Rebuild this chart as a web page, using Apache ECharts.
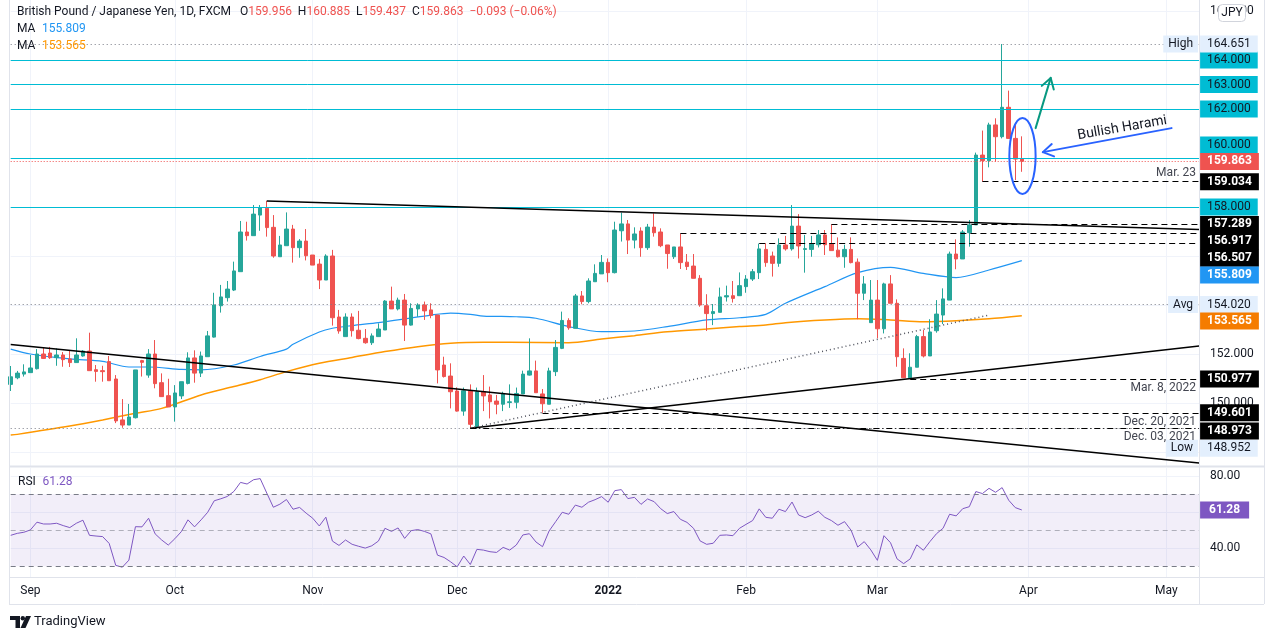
<!DOCTYPE html>
<html>
<head>
<meta charset="utf-8">
<title>GBP/JPY 1D</title>
<script src="https://cdn.jsdelivr.net/npm/echarts@6.0.0/dist/echarts.min.js"></script>
<style>
  html, body { margin: 0; padding: 0; background: #fff; }
  #main { width: 1274px; height: 640px; }
</style>
</head>
<body>
<div id="main"></div>
<script>
// daily candles from 2021-08-27, [open, high, low, close]
const ohlc = [
  [150.76, 151.51, 150.49, 151.07], [151.03, 151.31, 150.97, 151.22], [151.18, 151.58, 151.08, 151.27],
  [151.24, 151.96, 151.24, 151.43], [151.40, 152.20, 151.37, 152.00], [152.00, 152.27, 151.80, 151.82],
  [152.04, 152.29, 151.80, 151.85], [151.85, 152.23, 151.52, 151.96], [151.96, 152.08, 151.48, 151.77],
  [151.80, 152.15, 151.47, 151.65], [151.65, 152.64, 151.65, 151.96], [151.92, 152.16, 151.89, 152.12],
  [152.12, 152.87, 151.32, 151.32], [151.36, 151.55, 150.87, 151.29], [151.32, 151.52, 150.87, 151.28],
  [151.69, 151.92, 150.91, 150.91], [150.98, 151.14, 149.18, 149.27], [149.31, 150.16, 148.99, 149.10],
  [149.10, 149.96, 149.10, 149.43], [149.40, 151.35, 149.37, 151.35], [151.73, 151.76, 151.08, 151.66],
  [151.14, 152.20, 151.03, 152.00], [152.00, 152.57, 150.60, 150.79], [150.83, 151.21, 150.25, 150.26],
  [150.30, 150.99, 149.84, 149.84], [149.84, 150.73, 149.24, 150.41], [150.29, 150.87, 150.16, 150.87],
  [150.80, 152.07, 150.76, 151.84], [151.84, 152.15, 150.83, 151.22], [151.22, 152.10, 151.06, 151.92],
  [151.89, 152.94, 151.89, 152.74], [152.69, 154.50, 152.67, 154.00], [153.97, 154.82, 153.69, 154.33],
  [154.30, 154.98, 154.14, 154.65], [154.61, 155.77, 154.57, 155.39], [155.36, 157.43, 155.36, 156.98],
  [156.98, 157.40, 156.63, 156.83], [156.83, 158.08, 156.83, 157.71], [157.67, 158.08, 157.03, 157.97],
  [157.95, 158.25, 156.79, 157.16], [157.17, 157.67, 155.93, 156.00], [155.97, 156.82, 155.97, 156.45],
  [156.42, 157.78, 156.42, 157.10], [157.10, 157.27, 155.73, 156.34], [156.34, 156.69, 155.93, 156.61],
  [156.61, 157.10, 155.82, 156.01], [156.04, 156.04, 155.63, 155.63], [155.67, 155.88, 154.65, 155.02],
  [155.02, 156.07, 155.02, 156.00], [156.00, 156.25, 153.16, 153.48], [153.51, 153.80, 152.83, 152.94],
  [152.71, 153.66, 152.71, 153.51], [153.51, 153.66, 152.71, 152.95], [152.97, 153.76, 152.60, 152.63],
  [152.64, 153.02, 152.42, 152.46], [152.46, 152.84, 152.37, 152.74], [152.71, 153.25, 152.71, 153.02],
  [152.98, 154.20, 152.98, 154.16], [154.16, 154.75, 153.84, 153.84], [153.84, 154.30, 153.78, 154.20],
  [154.20, 154.45, 152.53, 153.18], [153.18, 154.07, 153.16, 153.86], [153.84, 154.07, 153.52, 154.00],
  [154.00, 154.14, 153.39, 153.76], [153.80, 154.07, 153.46, 153.57], [153.59, 153.59, 150.80, 151.35],
  [151.55, 151.89, 151.04, 151.08], [151.10, 151.62, 149.78, 150.46], [150.49, 150.64, 149.65, 149.67],
  [149.67, 150.63, 149.48, 150.50], [150.49, 150.76, 148.973, 149.13], [149.03, 150.63, 148.952, 150.46],
  [150.46, 151.14, 149.67, 150.29], [150.33, 150.67, 149.37, 150.05], [150.08, 150.33, 149.54, 149.95],
  [149.95, 150.46, 149.67, 150.39], [150.02, 150.76, 149.80, 150.05], [150.03, 150.63, 149.78, 150.39],
  [150.37, 151.32, 150.37, 151.18], [151.14, 152.64, 151.12, 151.31], [151.31, 151.73, 150.42, 150.42],
  [150.37, 150.57, 149.601, 149.97], [149.95, 151.44, 149.95, 151.31], [151.28, 152.57, 151.10, 152.27],
  [152.23, 153.73, 152.20, 153.37], [153.37, 153.46, 152.99, 153.07], [153.05, 154.45, 153.05, 154.37],
  [154.37, 154.57, 154.03, 154.14], [154.14, 155.09, 154.07, 154.98], [154.95, 155.66, 154.95, 155.29],
  [155.27, 156.04, 155.27, 155.74], [155.74, 155.90, 154.93, 155.32], [155.32, 157.40, 155.29, 157.06],
  [157.03, 157.77, 156.59, 157.31], [157.31, 157.47, 156.08, 156.65], [156.65, 157.17, 156.31, 156.90],
  [157.02, 157.17, 155.97, 156.34], [156.34, 157.31, 156.25, 157.18], [157.18, 157.74, 156.79, 156.95],
  [156.98, 157.13, 156.36, 156.42], [156.45, 156.45, 155.48, 156.10], [155.97, 156.37, 155.88, 156.37],
  [156.37, 156.917, 155.47, 155.73], [155.75, 156.08, 155.43, 155.57], [155.59, 156.08, 155.09, 155.09],
  [155.09, 155.22, 153.93, 154.00], [153.97, 154.44, 152.94, 153.65], [153.65, 154.04, 153.18, 153.73],
  [153.70, 154.71, 153.70, 154.33], [154.33, 154.79, 154.14, 154.38], [154.38, 154.98, 154.10, 154.27],
  [154.38, 155.33, 154.38, 154.79], [154.75, 155.22, 154.50, 155.06], [155.06, 155.47, 154.98, 155.36],
  [155.32, 156.507, 155.06, 156.29], [156.27, 156.52, 155.56, 155.73], [156.00, 156.18, 155.16, 155.70],
  [155.70, 156.72, 155.56, 156.45], [156.45, 156.82, 156.22, 156.29], [156.29, 158.08, 156.22, 157.22],
  [157.22, 157.71, 155.90, 156.41], [156.27, 156.86, 155.32, 156.30], [156.27, 156.82, 155.97, 156.49],
  [156.46, 157.06, 156.35, 156.86], [156.86, 157.06, 156.04, 156.46], [156.49, 157.289, 156.22, 156.22],
  [156.24, 156.76, 155.94, 155.97], [155.97, 156.46, 155.52, 156.27], [156.27, 156.76, 155.70, 155.73],
  [155.75, 155.90, 153.42, 154.48], [154.48, 155.18, 154.20, 154.86], [153.28, 155.02, 153.28, 154.20],
  [154.20, 155.02, 152.64, 153.03], [153.03, 154.91, 152.84, 154.86], [154.86, 155.22, 154.07, 154.07],
  [154.07, 154.23, 151.48, 151.89], [151.82, 152.23, 151.03, 151.03], [151.03, 152.03, 150.977, 151.46],
  [151.46, 152.78, 151.46, 152.71], [152.71, 152.98, 151.86, 151.92], [151.92, 153.42, 151.92, 152.90],
  [152.95, 154.20, 152.87, 153.63], [153.59, 154.68, 153.22, 154.25], [154.20, 156.18, 154.20, 156.08],
  [156.08, 156.68, 155.46, 155.88], [155.88, 157.06, 155.88, 156.98], [156.95, 157.47, 156.38, 157.27],
  [157.27, 160.22, 157.27, 160.12], [160.12, 161.12, 159.034, 159.89], [159.89, 161.44, 159.62, 161.35],
  [161.35, 161.62, 159.85, 160.87], [160.87, 164.651, 160.80, 162.07], [162.07, 162.75, 160.80, 160.80],
  [160.80, 161.44, 159.10, 159.956], [159.956, 160.885, 159.437, 159.863]
]

// moving averages, [bar index, value]
const maFast = [
  [0, 152.2], [3, 152.0], [9, 151.8], [14, 151.7], [18, 151.47], [21, 151.47], [26, 151.37], [29, 151.35],
  [34, 151.55], [38, 151.9], [42, 152.2], [43, 152.4], [47, 152.9], [49, 153.05], [52, 153.16], [56, 153.28],
  [60, 153.43], [64, 153.59], [67, 153.67], [70, 153.62], [72, 153.55], [77, 153.52], [80, 153.46], [85, 153.12],
  [90, 152.91], [95, 152.94], [100, 153.12], [106, 153.39], [111, 153.48], [115, 153.62], [118, 154.07],
  [124, 154.75], [129, 155.32], [134, 155.54], [139, 155.29], [144, 155.12], [149, 155.43], [154, 155.809]
]
const maSlow = [
  [0, 148.69], [1, 148.72], [9, 149.06], [14, 149.31], [19, 149.58], [23, 149.78], [29, 150.33], [34, 150.67],
  [38, 150.95], [42, 151.28], [47, 151.62], [52, 151.86], [57, 152.1], [62, 152.3], [67, 152.44], [72, 152.48],
  [76, 152.48], [85, 152.46], [90, 152.61], [95, 152.75], [100, 152.91], [106, 153.02], [111, 153.12],
  [115, 153.18], [118, 153.28], [124, 153.39], [129, 153.44], [134, 153.39], [139, 153.32], [144, 153.36],
  [149, 153.44], [154, 153.565]
]

const rsi = [
  47.2, 48.3, 48.9, 50.2, 54.5, 53.5, 53.5, 53.9, 52.6, 51.5, 53.9, 55.6, 47.2, 46.8, 46.5, 42.7, 30.5, 29.5,
  33.4, 52, 51.9, 56.7, 48, 44.6, 41.8, 45.3, 49.3, 55.8, 51.9, 55.8, 60, 66.4, 67.5, 68.8, 71.6, 76.6, 75.7,
  78.1, 78.7, 70.7, 62.8, 64.5, 67.1, 61.7, 62.7, 59.5, 56.7, 52.4, 57.3, 44, 41.6, 44.6, 42.2, 41.1, 40.1,
  41.4, 44, 51.1, 49.4, 51.3, 45.5, 49.8, 50.4, 49.4, 48, 36.2, 34.9, 32.5, 29.7, 35.7, 31, 39.4, 39, 38.1,
  37.7, 40.5, 39, 41.8, 47.4, 48.1, 43.5, 40.9, 49.6, 54.8, 60, 58.9, 64, 62.8, 65.6, 67, 68.7, 65.6, 72,
  72.6, 67.6, 68.3, 64.4, 67.4, 65.9, 62, 59.3, 60.4, 56.1, 54.4, 51.1, 44.1, 42.2, 42.8, 47.2, 47.4, 47,
  51.1, 53.3, 55.4, 61.9, 57.2, 56.7, 61.7, 60.4, 65.7, 58.5, 57, 58.5, 60.6, 57.2, 55.4, 52.8, 54.8, 50,
  40.7, 43.7, 39.1, 33.3, 47, 43.1, 34.1, 31.5, 34.1, 41.9, 38.9, 43.7, 48.1, 51.1, 58.9, 58, 62, 63.1,
  71.5, 70.4, 73.3, 71.1, 73.7, 66.7, 62.6, 61.28
]

const levels = [164, 163, 162, 160, 158]
// horizontal rays: [start bar, price, note]
const rays = [
  [148, 159.034, 'Mar. 23'],
  [125, 157.289, ''],
  [102, 156.917, ''],
  [114, 156.507, ''],
  [137, 150.977, 'Mar. 8, 2022'],
  [81, 149.601, 'Dec. 20, 2021'],
  [70, 148.973, 'Dec. 03, 2021']
]
const stats = [['High', 164.651], ['Avg', 154.020], ['Low', 148.952]]
const lastPrice = 159.863
// trend lines: [start bar, price, end bar, price]
const trendLines = [
  [39, 158.25, 181, 157.08],
  [0, 152.39, 181, 147.55],
  [70, 148.973, 181, 152.33]
]
const dottedTrend = [70, 148.973, 149, 153.59]
const rsiLevels = [70, 50, 30]

// drawings, in bar index / price space
const harami = { box: [152.1, 161.63, 156.1, 158.53], text: [169.3, 161.22] }
const blueArrow = [176.8, 161.22, 157.2, 160.24]
const greenArrow = [156.1, 161.22, 158.4, 163.27]

const FONT = 'Roboto, "Noto Sans", sans-serif'
const UP = '#26a69a', DOWN = '#ef5350', INK = '#131722'
const CLEAR = 'rgba(0,0,0,0)'
const BARS = 182

// weekday calendar, extended past the last candle
const dates = []
const day = new Date(Date.UTC(2021, 7, 27))
while (dates.length < BARS) {
    const wd = day.getUTCDay()
    if (wd !== 0 && wd !== 6) dates.push(day.toISOString().slice(0, 10))
    day.setUTCDate(day.getUTCDate() + 1)
}
const LAST = BARS - 1
const monthStarts = dates.map((d, i) => i > 0 && d.slice(5, 7) !== dates[i - 1].slice(5, 7) ? i : -1).filter(i => i >= 0)
const monthNames = ['Jan', 'Feb', 'Mar', 'Apr', 'May', 'Jun', 'Jul', 'Aug', 'Sep', 'Oct', 'Nov', 'Dec']

// right-hand price tags, pushed down/up where TradingView stacks them
const tagShift = { '160': -13, '156.917': 8, '156.507': 14.7, '155.809': 14.3, '153.565': 5.3, '148.973': 2.7, '148.952': 19.5 }

function box(value, bg, fg, bold) {
    return {
        show: true, position: 'end', distance: 1, formatter: value.toFixed(3),
        backgroundColor: bg, color: fg, fontFamily: FONT, fontSize: 12, lineHeight: 12,
        fontWeight: bold ? 'bold' : 'normal', padding: [3, 7, 2, 7],
        offset: [0, tagShift[String(value)] || 0]
    }
}
function tagLine(value, label) {
    return { yAxis: value, lineStyle: { color: CLEAR, width: 0 }, label }
}

const lines = []
levels.forEach(v => {
    lines.push({ yAxis: v, lineStyle: { color: '#00bcd4', width: 1, type: 'solid' }, label: box(v, '#00bcd4', INK, false) })
})
stats.forEach(([name, v]) => {
    lines.push({
        yAxis: v, lineStyle: { color: '#787b86', width: 1, type: [1, 3] },
        label: {
            show: true, position: 'insideEnd', distance: 1, formatter: name,
            backgroundColor: '#e3effd', color: INK, fontFamily: FONT, fontSize: 12, lineHeight: 12,
            padding: [3, 5, 2, 5], offset: [0, tagShift[String(v)] || 0]
        }
    })
    lines.push(tagLine(v, box(v, '#e3effd', INK, false)))
})
lines.push({ yAxis: lastPrice, lineStyle: { color: DOWN, width: 1, type: [1, 2] }, label: box(lastPrice, DOWN, '#fff', true) })
trendLines.forEach(([s, a, e, b]) => {
    lines.push([{ coord: [dates[s], a], lineStyle: { color: '#000', width: 1.5, type: 'solid' } }, { coord: [dates[e], b] }])
})
lines.push([
    { coord: [dates[dottedTrend[0]], dottedTrend[1]], lineStyle: { color: '#50535e', width: 1.5, type: [1, 3] } },
    { coord: [dates[dottedTrend[2]], dottedTrend[3]] }
])
rays.forEach(([s, v, note], k) => {
    const dashDot = k === rays.length - 1
    lines.push([
        {
            coord: [dates[s], v],
            lineStyle: { color: '#000', width: 1.2, type: dashDot ? [6, 3, 1, 3] : [6, 4] },
            label: note ? {
                show: true, position: k === 0 ? 'insideEndTop' : 'insideEndBottom', distance: 3,
                formatter: note, color: '#434651', fontFamily: FONT, fontSize: 12
            } : { show: false }
        },
        { coord: [dates[LAST], v] }
    ])
    lines.push(tagLine(v, box(v, '#000', '#fff', true)))
})
lines.push(tagLine(maFast[maFast.length - 1][1], box(maFast[maFast.length - 1][1], '#2196f3', '#fff', true)))
lines.push(tagLine(maSlow[maSlow.length - 1][1], box(maSlow[maSlow.length - 1][1], '#f57c00', '#fff', true)))

const rsiLast = rsi[rsi.length - 1]
const rsiLines = rsiLevels.map(v => ({
    yAxis: v, lineStyle: { color: v === 50 ? 'rgba(120,123,134,0.55)' : '#787b86', width: 1, type: [5, 4] }
}))
rsiLines.push({
    yAxis: rsiLast, lineStyle: { color: CLEAR, width: 0 },
    label: {
        show: true, position: 'end', distance: 1, formatter: rsiLast.toFixed(2), backgroundColor: '#7e57c2',
        color: '#fff', fontWeight: 'bold', fontFamily: FONT, fontSize: 12, lineHeight: 12, padding: [3, 9, 2, 9]
    }
})

const monthAxis = (grid, labels) => ({
    type: 'category', gridIndex: grid, data: dates, boundaryGap: false,
    axisLine: { show: false }, axisTick: { show: false },
    axisLabel: {
        show: labels, interval: i => monthStarts.includes(i), margin: 8,
        color: INK, fontFamily: FONT, fontSize: 12,
        formatter: d => d.slice(5, 7) === '01' ? '{b|' + d.slice(0, 4) + '}' : monthNames[+d.slice(5, 7) - 1],
        rich: { b: { fontWeight: 'bold', color: INK, fontFamily: FONT, fontSize: 12 } }
    },
    splitLine: { show: true, interval: i => monthStarts.includes(i), lineStyle: { color: '#f0f3fa', width: 1 } }
})

const chart = echarts.init(document.getElementById('main'))
chart.setOption({
    animation: false,
    backgroundColor: '#fff',
    textStyle: { fontFamily: FONT },
    grid: [
        { left: 10.7, top: 0, width: 1188.4, height: 466 },
        { left: 10.7, top: 468, width: 1188.4, height: 109 }
    ],
    xAxis: [monthAxis(0, false), monthAxis(1, true)],
    yAxis: [
        {
            type: 'value', gridIndex: 0, position: 'right', min: 147.429, max: 166.449, scale: true,
            axisLine: { show: false },
            axisTick: { show: false, customValues: [148, 150, 152, 154, 156, 158, 160, 162, 164, 166] },
            axisLabel: { customValues: [150, 152, 166], formatter: v => v.toFixed(3), color: INK, fontSize: 12, margin: 11 },
            splitLine: { show: true, lineStyle: { color: '#f0f3fa' } }
        },
        {
            type: 'value', gridIndex: 1, position: 'right', min: 24.05, max: 84.6,
            axisLine: { show: false },
            axisTick: { show: false, customValues: [40, 60, 80] },
            axisLabel: { customValues: [40, 80], formatter: v => v.toFixed(2), color: INK, fontSize: 12, margin: 11 },
            splitLine: { show: true, lineStyle: { color: '#f0f3fa' } }
        }
    ],
    series: [
        {
            type: 'line', xAxisIndex: 0, yAxisIndex: 0, data: maSlow, smooth: 0.3, showSymbol: false,
            lineStyle: { color: '#ff9800', width: 1.5 }, silent: true, z: 1
        },
        {
            type: 'line', xAxisIndex: 0, yAxisIndex: 0, data: maFast, smooth: 0.3, showSymbol: false,
            lineStyle: { color: '#2196f3', width: 1.2 }, silent: true, z: 1
        },
        {
            type: 'candlestick', xAxisIndex: 0, yAxisIndex: 0, barWidth: 4,
            data: ohlc.map(([o, h, l, c]) => [o, c, l, h]),
            itemStyle: { color: UP, color0: DOWN, borderColor: UP, borderColor0: DOWN, borderWidth: 1 },
            z: 3,
            markLine: { silent: true, symbol: ['none', 'none'], label: { show: false }, data: lines, z: 4 }
        },
        {
            type: 'line', xAxisIndex: 1, yAxisIndex: 1, data: rsi, showSymbol: false, silent: true,
            lineStyle: { color: '#7e57c2', width: 1 },
            markArea: { silent: true, itemStyle: { color: 'rgba(126,87,194,0.1)' }, data: [[{ yAxis: 30 }, { yAxis: 70 }]] },
            markLine: { silent: true, symbol: ['none', 'none'], label: { show: false }, data: rsiLines }
        }
    ]
})

// drawings and chrome, placed through the chart's own scales
const x0 = chart.convertToPixel({ xAxisIndex: 0 }, 0)
const step = (chart.convertToPixel({ xAxisIndex: 0 }, LAST) - x0) / LAST
const pt = (i, p) => [x0 + step * i, chart.convertToPixel({ yAxisIndex: 0 }, p)]

function arrow(a, b, color) {
    const ang = Math.atan2(b[1] - a[1], b[0] - a[0]), len = 12, w = 0.55
    const style = { stroke: color, lineWidth: 2, fill: null, lineCap: 'round', lineJoin: 'round' }
    return [
        { type: 'polyline', z: 100, silent: true, shape: { points: [a, b] }, style },
        {
            type: 'polyline', z: 100, silent: true, style,
            shape: { points: [
                [b[0] - len * Math.cos(ang - w), b[1] - len * Math.sin(ang - w)], b,
                [b[0] - len * Math.cos(ang + w), b[1] - len * Math.sin(ang + w)]
            ] }
        }
    ]
}

const bl = pt(harami.box[0], harami.box[1]), br = pt(harami.box[2], harami.box[3])
const txt = pt(harami.text[0], harami.text[1])
const frame = { stroke: '#e0e3eb', lineWidth: 1 }
const hline = (y, w) => ({ type: 'line', z: 90, silent: true, shape: { x1: 9, y1: y, x2: 1264, y2: y }, style: { stroke: '#e0e3eb', lineWidth: w || 1 } })
const vline = x => ({ type: 'line', z: 90, silent: true, shape: { x1: x, y1: 0, x2: x, y2: 604 }, style: frame })
const rich = (a, b, size) => ({
    t: { fontSize: size, fontFamily: FONT, fill: a },
    v: { fontSize: size, fontFamily: FONT, fill: b }
})

chart.setOption({
    graphic: [
        hline(466.5, 2), hline(577.5), hline(604.5), vline(9.5), vline(1199.5), vline(1264.5),
        {
            type: 'ellipse', z: 100, silent: true,
            shape: { cx: (bl[0] + br[0]) / 2, cy: (bl[1] + br[1]) / 2, rx: (br[0] - bl[0]) / 2, ry: (br[1] - bl[1]) / 2 },
            style: { fill: null, stroke: '#2962ff', lineWidth: 2 }
        },
        ...arrow(pt(blueArrow[0], blueArrow[1]), pt(blueArrow[2], blueArrow[3]), '#2962ff'),
        ...arrow(pt(greenArrow[0], greenArrow[1]), pt(greenArrow[2], greenArrow[3]), '#089981'),
        {
            type: 'text', z: 100, silent: true, x: txt[0], y: txt[1], rotation: 0.17,
            style: { text: 'Bullish Harami', fontSize: 14, fontFamily: FONT, fill: INK, align: 'center', verticalAlign: 'middle' }
        },
        {
            type: 'text', z: 100, silent: true, left: 17, top: 6,
            style: {
                text: '{t|British Pound / Japanese Yen, 1D, FXCM}   {t|O}{v|159.956}  {t|H}{v|160.885}  {t|L}{v|159.437}  {t|C}{v|159.863}  {v|−0.093 (−0.06%)}',
                fontSize: 12, fontFamily: FONT, fill: INK, rich: rich(INK, DOWN, 12)
            }
        },
        {
            type: 'text', z: 100, silent: true, left: 17, top: 23,
            style: { text: '{t|MA}  {v|155.809}', fontSize: 12, rich: rich(INK, '#2196f3', 12) }
        },
        {
            type: 'text', z: 100, silent: true, left: 17, top: 40,
            style: { text: '{t|MA}  {v|153.565}', fontSize: 12, rich: rich(INK, '#ff9800', 12) }
        },
        {
            type: 'text', z: 100, silent: true, left: 18, top: 476,
            style: { text: '{t|RSI}  {v|61.28}', fontSize: 12, rich: rich(INK, '#7e57c2', 12) }
        },
        {
            type: 'rect', z: 110, silent: true, shape: { x: 1218.5, y: 4.5, width: 27, height: 17, r: 4 },
            style: { fill: '#fff', stroke: '#d1d4dc', lineWidth: 1 }
        },
        {
            type: 'text', z: 111, silent: true, x: 1232, y: 13,
            style: { text: 'JPY', fontSize: 12, fontFamily: FONT, fill: INK, align: 'center', verticalAlign: 'middle' }
        },
        { type: 'polygon', z: 100, silent: true, shape: { points: [[10, 616], [20, 616], [20, 628], [15.5, 628], [15.5, 620], [10, 620]] }, style: { fill: INK } },
        { type: 'circle', z: 100, silent: true, shape: { cx: 22.8, cy: 618.2, r: 2.2 }, style: { fill: INK } },
        { type: 'polygon', z: 100, silent: true, shape: { points: [[26, 616], [31, 616], [25.5, 628], [20.5, 628]] }, style: { fill: INK } },
        {
            type: 'text', z: 100, silent: true, x: 34, y: 622,
            style: { text: 'TradingView', fontSize: 13, fontFamily: FONT, fill: INK, verticalAlign: 'middle' }
        }
    ]
})
</script>
</body>
</html>
